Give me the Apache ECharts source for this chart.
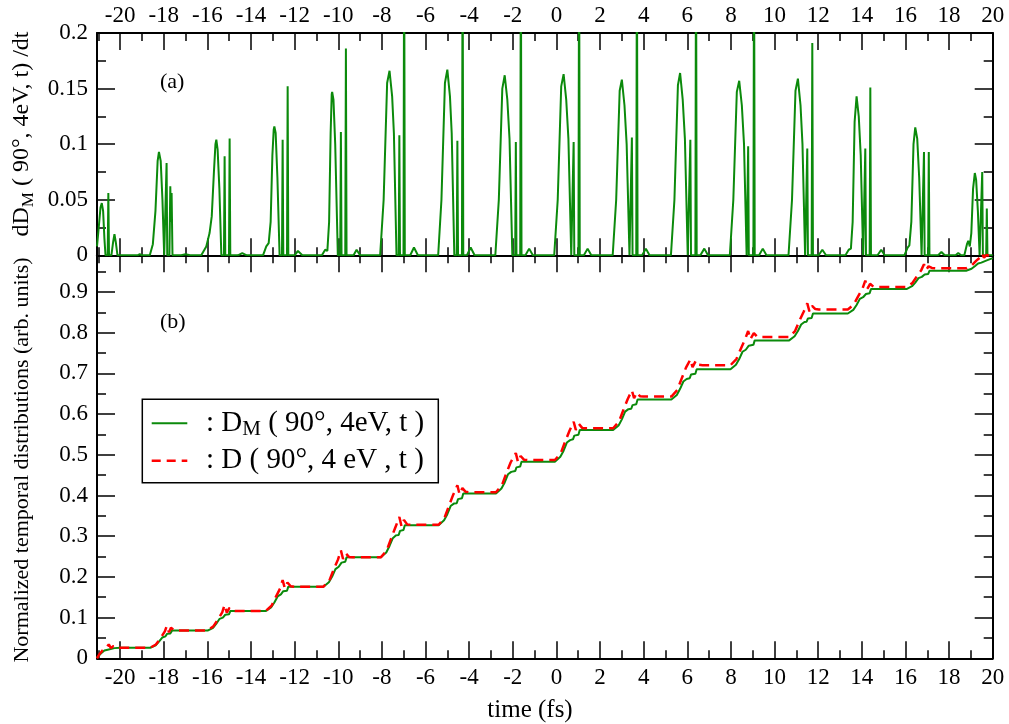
<!DOCTYPE html>
<html><head><meta charset="utf-8">
<script src="https://cdn.jsdelivr.net/npm/echarts@6/dist/echarts.min.js"></script>
<style>html,body{margin:0;padding:0;background:#fff}#c{width:1009px;height:724px}</style>
</head><body><div id="c"></div>
<script>
// ---- axis ranges & tick values ----
const xRange = [-21.06, 20];
const xMajorTicks = [-20,-18,-16,-14,-12,-10,-8,-6,-4,-2,0,2,4,6,8,10,12,14,16,18,20];
const xMinorTicks = [-21,-19,-17,-15,-13,-11,-9,-7,-5,-3,-1,1,3,5,7,9,11,13,15,17,19];
const yaRange = [0, 0.2];
const yaMajorTicks = [0, 0.05, 0.1, 0.15, 0.2];
const yaMinorTicks = [0.025, 0.075, 0.125, 0.175];
const ybRange = [0, 0.99];
const ybMajorTicks = [0, 0.1, 0.2, 0.3, 0.4, 0.5, 0.6, 0.7, 0.8, 0.9];
const ybMinorTicks = [0.05, 0.15, 0.25, 0.35, 0.45, 0.55, 0.65, 0.75, 0.85, 0.95];

// ---- panel (a): dD_M/dt ----
const rateDM = [
[-21.06,0.008],[-20.98,0.025],[-20.9,0.043],[-20.84,0.047],[-20.78,0.04],[-20.72,0.015],[-20.67,0],[-20.57,0],[-20.54,0.056],[-20.51,0],[-20.4,0],[-20.32,0.012],[-20.26,0.019],[-20.2,0.012],[-20.12,0],[-19.2,0],[-19.1,0.001],[-19.0,0],
[-18.64,0],[-18.5,0.01],[-18.38,0.04],[-18.28,0.085],[-18.22,0.093],[-18.14,0.085],[-18.06,0.05],[-17.98,0],[-17.91,0],[-17.87,0.083],[-17.84,0],[-17.74,0],[-17.7,0.062],[-17.67,0.03],[-17.64,0.056],[-17.6,0],[-17.2,0],[-17.0,0.001],[-16.8,0],
[-16.28,0],[-16.05,0.008],[-15.9,0.02],[-15.8,0.035],[-15.7,0.075],[-15.63,0.1],[-15.59,0.104],[-15.53,0.095],[-15.45,0.06],[-15.36,0],[-15.24,0],[-15.21,0.089],[-15.18,0],[-15.01,0],[-14.98,0.105],[-14.95,0],[-14.6,0],[-14.4,0.002],[-14.2,0],
[-13.45,0],[-13.3,0.008],[-13.19,0.011],[-13.1,0.03],[-13.02,0.09],[-12.96,0.113],[-12.93,0.116],[-12.87,0.11],[-12.79,0.07],[-12.69,0],[-12.58,0],[-12.55,0.104],[-12.52,0],[-12.35,0],[-12.32,0.152],[-12.29,0],[-12.0,0],[-11.85,0.004],[-11.65,0],
[-10.75,0],[-10.6,0.005],[-10.5,0.004],[-10.42,0.03],[-10.35,0.11],[-10.3,0.145],[-10.28,0.147],[-10.22,0.14],[-10.14,0.1],[-10.02,0],[-9.91,0],[-9.88,0.111],[-9.85,0],[-9.68,0],[-9.65,0.186],[-9.62,0],[-9.3,0],[-9.16,0.005],[-9.0,0],
[-8.08,0],[-7.92,0.05],[-7.76,0.155],[-7.65,0.166],[-7.53,0.143],[-7.45,0.11],[-7.33,0],[-7.23,0],[-7.2,0.108],[-7.17,0],[-7.01,0],[-6.98,0.3],[-6.95,0],[-6.7,0],[-6.53,0.007],[-6.35,0],
[-5.42,0],[-5.27,0.05],[-5.11,0.155],[-5.0,0.167],[-4.88,0.143],[-4.8,0.11],[-4.68,0],[-4.57,0],[-4.54,0.103],[-4.51,0],[-4.33,0],[-4.3,0.3],[-4.27,0],[-4.1,0],[-3.93,0.007],[-3.75,0],
[-2.8,0],[-2.64,0.05],[-2.48,0.15],[-2.37,0.162],[-2.25,0.14],[-2.15,0.105],[-2.02,0],[-1.89,0],[-1.86,0.102],[-1.83,0],[-1.66,0],[-1.63,0.3],[-1.6,0],[-1.42,0],[-1.25,0.006],[-1.08,0],
[-0.1,0],[0.06,0.05],[0.22,0.152],[0.33,0.163],[0.45,0.14],[0.55,0.105],[0.68,0],[0.76,0],[0.79,0.102],[0.82,0],[1.01,0],[1.04,0.3],[1.07,0],[1.26,0],[1.43,0.006],[1.6,0],
[2.58,0],[2.74,0.05],[2.9,0.148],[3.0,0.158],[3.12,0.135],[3.22,0.1],[3.35,0],[3.43,0],[3.46,0.106],[3.49,0],[3.66,0],[3.69,0.3],[3.72,0],[3.93,0],[4.1,0.006],[4.27,0],
[5.25,0],[5.41,0.05],[5.57,0.153],[5.67,0.164],[5.79,0.14],[5.89,0.105],[6.02,0],[6.11,0],[6.14,0.104],[6.17,0],[6.37,0],[6.4,0.3],[6.43,0],[6.6,0],[6.78,0.006],[6.95,0],
[7.95,0],[8.11,0.05],[8.27,0.147],[8.38,0.157],[8.5,0.135],[8.6,0.1],[8.72,0],[8.76,0],[8.79,0.098],[8.82,0],[9.03,0],[9.06,0.3],[9.09,0],[9.29,0],[9.46,0.006],[9.63,0],
[10.64,0],[10.8,0.05],[10.96,0.148],[11.07,0.159],[11.19,0.135],[11.28,0.1],[11.4,0],[11.47,0],[11.5,0.096],[11.53,0],[11.7,0],[11.73,0.191],[11.76,0],[12.02,0],[12.19,0.005],[12.36,0],
[13.25,0],[13.4,0.005],[13.5,0.006],[13.58,0.03],[13.67,0.12],[13.76,0.143],[13.86,0.125],[13.95,0.09],[14.06,0],[14.13,0],[14.16,0.096],[14.19,0],[14.36,0],[14.39,0.151],[14.42,0],[14.72,0],[14.89,0.005],[15.05,0],
[15.95,0],[16.1,0.007],[16.18,0.009],[16.27,0.03],[16.37,0.1],[16.45,0.115],[16.54,0.105],[16.63,0.07],[16.74,0],[16.82,0],[16.85,0.093],[16.88,0],[17.04,0],[17.07,0.093],[17.1,0],[17.5,0],[17.65,0.003],[17.8,0],[18.3,0],[18.42,0.002],[18.55,0],
[18.7,0],[18.82,0.01],[18.88,0.013],[18.95,0.008],[19.02,0.02],[19.1,0.06],[19.18,0.074],[19.24,0.068],[19.32,0.04],[19.4,0],[19.49,0],[19.52,0.075],[19.55,0],[19.7,0],[19.73,0.042],[19.76,0],[20,0]
];

// ---- panel (b): normalized temporal distributions ----
const distDM = [
[-21.06,0.002],[-20.95,0.008],[-20.84,0.014],[-20.72,0.019],[-20.57,0.021],[-20.5,0.023],[-20.26,0.025],[-20.0,0.026],
[-18.62,0.026],[-18.37,0.032],[-18.22,0.041],[-18.07,0.051],[-17.92,0.054],[-17.89,0.055],[-17.85,0.06],[-17.7,0.061],[-17.62,0.068],
[-15.99,0.068],[-15.74,0.075],[-15.59,0.085],[-15.44,0.097],[-15.29,0.1],[-15.24,0.101],[-15.18,0.107],[-15.01,0.108],[-14.95,0.116],
[-13.33,0.116],[-13.08,0.125],[-12.93,0.137],[-12.78,0.152],[-12.63,0.157],[-12.58,0.158],[-12.52,0.165],[-12.35,0.166],[-12.29,0.176],
[-10.68,0.176],[-10.43,0.187],[-10.28,0.201],[-10.13,0.219],[-9.98,0.225],[-9.91,0.226],[-9.85,0.235],[-9.68,0.237],[-9.62,0.248],
[-8.05,0.248],[-7.8,0.26],[-7.65,0.276],[-7.5,0.295],[-7.35,0.302],[-7.23,0.303],[-7.17,0.313],[-7.01,0.315],[-6.95,0.327],
[-5.4,0.327],[-5.15,0.339],[-5.0,0.354],[-4.85,0.374],[-4.7,0.38],[-4.57,0.381],[-4.51,0.391],[-4.33,0.393],[-4.27,0.405],
[-2.77,0.405],[-2.52,0.417],[-2.37,0.432],[-2.22,0.452],[-2.07,0.458],[-1.89,0.46],[-1.83,0.469],[-1.66,0.471],[-1.6,0.483],
[-0.07,0.483],[0.18,0.495],[0.33,0.51],[0.48,0.53],[0.63,0.536],[0.76,0.538],[0.82,0.547],[1.01,0.549],[1.07,0.561],
[2.6,0.561],[2.85,0.572],[3.0,0.587],[3.15,0.606],[3.3,0.612],[3.43,0.613],[3.49,0.622],[3.66,0.624],[3.72,0.636],
[5.27,0.636],[5.52,0.647],[5.67,0.662],[5.82,0.68],[5.97,0.686],[6.11,0.688],[6.17,0.697],[6.37,0.699],[6.43,0.71],
[7.98,0.71],[8.23,0.721],[8.38,0.735],[8.53,0.753],[8.68,0.758],[8.76,0.76],[8.82,0.768],[9.03,0.77],[9.09,0.781],
[10.67,0.781],[10.92,0.791],[11.07,0.804],[11.22,0.82],[11.37,0.826],[11.47,0.827],[11.53,0.835],[11.7,0.836],[11.76,0.847],
[13.36,0.847],[13.61,0.856],[13.76,0.868],[13.91,0.883],[14.06,0.887],[14.13,0.888],[14.19,0.895],[14.36,0.897],[14.42,0.907],
[16.05,0.907],[16.3,0.914],[16.45,0.923],[16.6,0.934],[16.75,0.937],[16.82,0.938],[16.88,0.943],[17.04,0.944],[17.1,0.952],
[18.78,0.952],[19.03,0.957],[19.18,0.963],[19.33,0.97],[19.48,0.972],[19.55,0.976],[19.7,0.977],[19.76,0.981],[20.0,0.983]
];
const distD = [
[-21.06,0.0],[-20.95,0.01],[-20.8,0.02],[-20.62,0.027],[-20.52,0.034],[-20.42,0.025],[-20.3,0.03],[-20.15,0.026],
[-18.62,0.026],[-18.36,0.034],[-18.14,0.05],[-17.95,0.066],[-17.86,0.08],[-17.76,0.064],[-17.67,0.075],[-17.52,0.069],[-17.37,0.068],
[-15.99,0.068],[-15.72,0.079],[-15.51,0.096],[-15.32,0.113],[-15.21,0.131],[-15.11,0.112],[-14.99,0.124],[-14.84,0.117],[-14.68,0.116],
[-13.33,0.116],[-13.06,0.129],[-12.86,0.151],[-12.66,0.172],[-12.55,0.192],[-12.45,0.172],[-12.33,0.186],[-12.18,0.177],[-12.02,0.176],
[-10.68,0.176],[-10.41,0.191],[-10.21,0.218],[-10.01,0.243],[-9.88,0.265],[-9.78,0.244],[-9.66,0.258],[-9.51,0.249],[-9.35,0.248],
[-8.05,0.248],[-7.78,0.265],[-7.58,0.294],[-7.38,0.322],[-7.2,0.347],[-7.1,0.324],[-6.99,0.34],[-6.84,0.329],[-6.68,0.328],
[-5.4,0.328],[-5.13,0.345],[-4.93,0.374],[-4.73,0.402],[-4.54,0.425],[-4.44,0.403],[-4.31,0.418],[-4.16,0.409],[-4.0,0.408],
[-2.77,0.408],[-2.5,0.425],[-2.3,0.454],[-2.1,0.481],[-1.86,0.504],[-1.76,0.482],[-1.64,0.497],[-1.49,0.488],[-1.33,0.487],
[-0.07,0.487],[0.2,0.504],[0.4,0.532],[0.6,0.559],[0.79,0.581],[0.89,0.561],[1.03,0.576],[1.18,0.566],[1.34,0.565],
[2.6,0.565],[2.87,0.582],[3.07,0.61],[3.27,0.637],[3.46,0.658],[3.56,0.639],[3.68,0.653],[3.83,0.644],[3.99,0.643],
[5.27,0.643],[5.54,0.659],[5.74,0.687],[5.94,0.714],[6.14,0.734],[6.24,0.715],[6.39,0.731],[6.54,0.721],[6.7,0.72],
[7.98,0.72],[8.25,0.735],[8.45,0.76],[8.65,0.784],[8.79,0.804],[8.89,0.784],[9.05,0.799],[9.2,0.79],[9.36,0.789],
[10.67,0.789],[10.94,0.804],[11.14,0.829],[11.34,0.852],[11.5,0.872],[11.6,0.852],[11.72,0.866],[11.87,0.858],[12.03,0.857],
[13.36,0.857],[13.63,0.869],[13.83,0.889],[14.03,0.908],[14.16,0.928],[14.26,0.908],[14.38,0.92],[14.53,0.913],[14.69,0.912],
[16.05,0.912],[16.32,0.922],[16.52,0.938],[16.72,0.953],[16.85,0.968],[16.95,0.954],[17.06,0.963],[17.21,0.959],[17.37,0.958],
[18.78,0.958],[19.05,0.966],[19.25,0.977],[19.43,0.985],[19.52,0.994],[19.6,0.984],[19.72,0.991],[19.85,0.988],[20.0,0.99]
];

const FONT = 'Liberation Serif';
const GREEN = '#0b8a0b', RED = '#ff0000';
const TL = 23; // tick label font size

function xAx(grid, pos, ticks, len, showLabel, showLine) {
  return {
    type: 'value', gridIndex: grid, position: pos, min: xRange[0], max: xRange[1],
    axisLine: { show: showLine, onZero: false, lineStyle: { color: '#000', width: 2 } },
    axisTick: { show: true, inside: true, length: len, customValues: ticks, lineStyle: { color: '#000', width: 1.5 } },
    axisLabel: { show: showLabel, customValues: ticks, margin: pos === 'top' ? 6 : 8, color: '#000', fontFamily: FONT, fontSize: TL },
    splitLine: { show: false }
  };
}
function yAx(grid, pos, range, ticks, len, showLabel, showLine) {
  return {
    type: 'value', gridIndex: grid, position: pos, min: range[0], max: range[1],
    axisLine: { show: showLine, onZero: false, lineStyle: { color: '#000', width: 2 } },
    axisTick: { show: true, inside: true, length: len, customValues: ticks, lineStyle: { color: '#000', width: 1.5 } },
    axisLabel: { show: showLabel, customValues: ticks, margin: 9, color: '#000', fontFamily: FONT, fontSize: TL },
    splitLine: { show: false }
  };
}

const chart = echarts.init(document.getElementById('c'), null, { renderer: 'canvas' });
const gA = { left: 97, top: 33, width: 895.7, height: 222.3 };
const gB = { left: 97, top: 255.3, width: 895.7, height: 403 };

chart.setOption({
  animation: false,
  backgroundColor: '#fff',
  textStyle: { fontFamily: FONT },
  grid: [ Object.assign({ containLabel: false }, gA), Object.assign({ containLabel: false }, gB) ],
  xAxis: [
    xAx(0, 'bottom', xMajorTicks, 17, false, true),
    xAx(0, 'bottom', xMinorTicks, 8, false, false),
    xAx(0, 'top', xMajorTicks, 17, true, true),
    xAx(0, 'top', xMinorTicks, 8, false, false),
    xAx(1, 'bottom', xMajorTicks, 17, true, true),
    xAx(1, 'bottom', xMinorTicks, 8, false, false),
    xAx(1, 'top', xMajorTicks, 17, false, true),
    xAx(1, 'top', xMinorTicks, 8, false, false)
  ],
  yAxis: [
    yAx(0, 'left', yaRange, yaMajorTicks, 18, true, true),
    yAx(0, 'left', yaRange, yaMinorTicks, 9, false, false),
    yAx(0, 'right', yaRange, yaMajorTicks, 18, false, true),
    yAx(0, 'right', yaRange, yaMinorTicks, 9, false, false),
    yAx(1, 'left', ybRange, ybMajorTicks, 18, true, true),
    yAx(1, 'left', ybRange, ybMinorTicks, 9, false, false),
    yAx(1, 'right', ybRange, ybMajorTicks, 18, false, true),
    yAx(1, 'right', ybRange, ybMinorTicks, 9, false, false)
  ],
  series: [
    { type: 'line', name: 'dDM/dt', xAxisIndex: 0, yAxisIndex: 0, data: rateDM, showSymbol: false, clip: true,
      lineStyle: { color: GREEN, width: 2 }, itemStyle: { color: GREEN }, z: 3 },
    { type: 'line', name: 'D', xAxisIndex: 4, yAxisIndex: 4, data: distD, showSymbol: false, clip: false,
      lineStyle: { color: RED, width: 2.5, type: [10, 6] }, itemStyle: { color: RED }, z: 3 },
    { type: 'line', name: 'DM', xAxisIndex: 4, yAxisIndex: 4, data: distDM, showSymbol: false, clip: false,
      lineStyle: { color: GREEN, width: 2 }, itemStyle: { color: GREEN }, z: 2 }
  ],
  graphic: [
    { type: 'text', x: 22, y: 134, rotation: Math.PI / 2, z: 10,
      style: { text: '{n|dD}{s|M}{n| ( 90°, 4eV, t) /dt}', align: 'center', verticalAlign: 'middle', fill: '#000',
        rich: { n: { fontFamily: FONT, fontSize: 24, lineHeight: 30, fill: '#000' },
                s: { fontFamily: FONT, fontSize: 17, lineHeight: 14, verticalAlign: 'bottom', fill: '#000' } } } },
    { type: 'text', x: 22, y: 460, rotation: Math.PI / 2, z: 10,
      style: { text: 'Normalized temporal distributions (arb. units)', align: 'center', verticalAlign: 'middle',
        fill: '#000', fontFamily: FONT, fontSize: 22 } },
    { type: 'text', x: 530, y: 710, z: 10,
      style: { text: 'time (fs)', align: 'center', verticalAlign: 'middle', fill: '#000', fontFamily: FONT, fontSize: 25 } },
    { type: 'text', x: 160, y: 82, z: 10,
      style: { text: '(a)', align: 'left', verticalAlign: 'middle', fill: '#000', fontFamily: FONT, fontSize: 22 } },
    { type: 'text', x: 160, y: 322, z: 10,
      style: { text: '(b)', align: 'left', verticalAlign: 'middle', fill: '#000', fontFamily: FONT, fontSize: 22 } },
    { type: 'rect', z: 20, shape: { x: 142.3, y: 399.3, width: 296, height: 83.4 },
      style: { fill: '#fff', stroke: '#000', lineWidth: 1.5 } },
    { type: 'line', z: 21, shape: { x1: 151.7, y1: 423.3, x2: 187.3, y2: 423.3 },
      style: { stroke: GREEN, lineWidth: 2 } },
    { type: 'line', z: 21, shape: { x1: 151.7, y1: 460.7, x2: 187.3, y2: 460.7 },
      style: { stroke: RED, lineWidth: 2.5, lineDash: [9, 6] } },
    { type: 'text', z: 21, x: 206, y: 423,
      style: { text: '{n|: D}{s|M}{n| ( 90°, 4eV, t )}', align: 'left', verticalAlign: 'middle', fill: '#000',
        rich: { n: { fontFamily: FONT, fontSize: 29, lineHeight: 34, fill: '#000' },
                s: { fontFamily: FONT, fontSize: 21, lineHeight: 17, verticalAlign: 'bottom', fill: '#000' } } } },
    { type: 'text', z: 21, x: 206, y: 460,
      style: { text: ': D ( 90°, 4 eV , t )', align: 'left', verticalAlign: 'middle', fill: '#000', fontFamily: FONT, fontSize: 29 } }
  ]
});
</script></body></html>
